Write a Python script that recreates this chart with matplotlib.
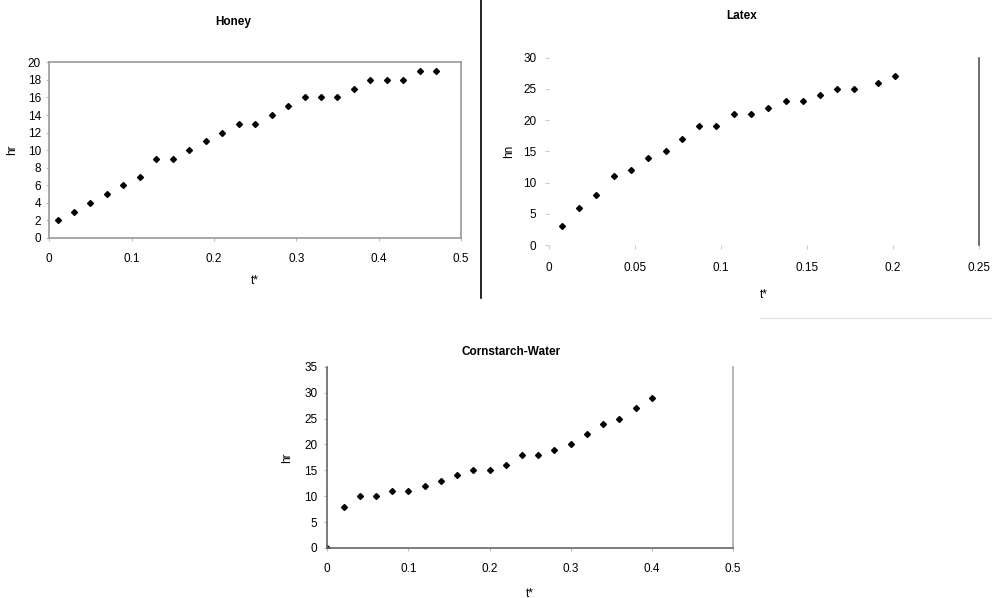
import matplotlib
matplotlib.use("Agg")
import matplotlib.pyplot as plt
from matplotlib.lines import Line2D

plt.rcParams['font.family'] = ['Liberation Sans', 'DejaVu Sans']

# Honey
honey_x = [0.01, 0.03, 0.05, 0.07, 0.09, 0.11, 0.13, 0.15, 0.17, 0.19, 0.21, 0.23,
           0.25, 0.27, 0.29, 0.31, 0.33, 0.35, 0.37, 0.39, 0.41, 0.43, 0.45, 0.47]
honey_y = [2, 3, 4, 5, 6, 7, 9, 9, 10, 11, 12, 13, 13, 14, 15, 16, 16, 16, 17, 18, 18, 18, 19, 19]
honey_xticks = [0, 0.1, 0.2, 0.3, 0.4, 0.5]
honey_xtl = ['0', '0.1', '0.2', '0.3', '0.4', '0.5']
honey_yticks = [0, 2, 4, 6, 8, 10, 12, 14, 16, 18, 20]

# Latex
latex_x = [0.0077, 0.0176, 0.0274, 0.0376, 0.0479, 0.0577, 0.0678, 0.0772, 0.0873, 0.0973,
           0.1073, 0.1174, 0.1276, 0.1376, 0.1475, 0.1573, 0.1672, 0.1772, 0.191, 0.201]
latex_y = [3, 6, 8, 11, 12, 14, 15, 17, 19, 19, 21, 21, 22, 23, 23, 24, 25, 25, 26, 27]
latex_xticks = [0, 0.05, 0.1, 0.15, 0.2, 0.25]
latex_xtl = ['0', '0.05', '0.1', '0.15', '0.2', '0.25']
latex_yticks = [0, 5, 10, 15, 20, 25, 30]

# Cornstarch-Water
corn_x = [0.0, 0.02, 0.04, 0.06, 0.08, 0.10, 0.12, 0.14, 0.16, 0.18, 0.20,
          0.22, 0.24, 0.26, 0.28, 0.30, 0.32, 0.34, 0.36, 0.38, 0.40]
corn_y = [0, 8, 10, 10, 11, 11, 12, 13, 14, 15, 15, 16, 18, 18, 19, 20, 22, 24, 25, 27, 29]
corn_xticks = [0, 0.1, 0.2, 0.3, 0.4, 0.5]
corn_xtl = ['0', '0.1', '0.2', '0.3', '0.4', '0.5']
corn_yticks = [0, 5, 10, 15, 20, 25, 30, 35]

fig = plt.figure(figsize=(9.92, 5.98), dpi=100)
W, H = 992, 598

def ax_px(x0, x1, ytop, ybot):
    return fig.add_axes([x0 / W, 1 - ybot / H, (x1 - x0) / W, (ybot - ytop) / H])

tick_fs = 8.5
lab_fs = 8.5
mk = dict(marker='D', markersize=3.0, color='black', linestyle='none')

# Honey panel
ax1 = ax_px(49.3, 461, 62.3, 238)
ax1.plot(honey_x, honey_y, **mk)
ax1.set_xlim(0, 0.5)
ax1.set_ylim(0, 20)
ax1.set_xticks(honey_xticks)
ax1.set_xticklabels(honey_xtl)
ax1.set_yticks(honey_yticks)
for s in ax1.spines.values():
    s.set_color('#999999')
    s.set_linewidth(1.2)
ax1.tick_params(length=2, color='#bbbbbb', labelsize=tick_fs)
ax1.tick_params(axis='x', pad=9)
ax1.tick_params(axis='y', pad=4)
ax1.set_xlabel('t*', fontsize=lab_fs, labelpad=7)
ax1.set_ylabel('hr', fontsize=lab_fs, labelpad=7)
fig.text(233 / W, 1 - 22 / H, 'Honey', ha='center', va='center', fontsize=8.5, fontweight='bold')

# Latex panel
ax2 = ax_px(549, 979, 57.7, 245)
ax2.plot(latex_x, latex_y, **mk)
ax2.set_xlim(0, 0.25)
ax2.set_ylim(0, 30)
ax2.set_xticks(latex_xticks)
ax2.set_xticklabels(latex_xtl)
ax2.set_yticks(latex_yticks)
for k in ['top', 'left', 'bottom']:
    ax2.spines[k].set_visible(False)
ax2.spines['right'].set_color('#555555')
ax2.spines['right'].set_linewidth(1.2)
ax2.tick_params(length=3, color='#cccccc', labelsize=tick_fs)
ax2.tick_params(axis='x', pad=9)
ax2.tick_params(axis='y', pad=6)
ax2.set_xlabel('t*', fontsize=lab_fs, labelpad=11)
ax2.set_ylabel('hn', fontsize=lab_fs, labelpad=6)
fig.text(742 / W, 1 - 16 / H, 'Latex', ha='center', va='center', fontsize=8.5, fontweight='bold')

# Cornstarch-Water panel
ax3 = ax_px(327.3, 733, 366.7, 548)
ax3.plot(corn_x, corn_y, **mk)
ax3.set_xlim(0, 0.5)
ax3.set_ylim(0, 35)
ax3.set_xticks(corn_xticks)
ax3.set_xticklabels(corn_xtl)
ax3.set_yticks(corn_yticks)
ax3.spines['top'].set_visible(False)
ax3.spines['left'].set_color('#666666')
ax3.spines['bottom'].set_color('#666666')
ax3.spines['right'].set_color('#aaaaaa')
for s in ax3.spines.values():
    s.set_linewidth(1.2)
ax3.tick_params(length=2, color='#bbbbbb', labelsize=tick_fs)
ax3.tick_params(axis='x', pad=9)
ax3.tick_params(axis='y', pad=5)
ax3.set_xlabel('t*', fontsize=lab_fs, labelpad=9)
ax3.set_ylabel('hr', fontsize=lab_fs, labelpad=8)
fig.text(511 / W, 1 - 352 / H, 'Cornstarch-Water', ha='center', va='center', fontsize=8.5, fontweight='bold')

# separator line between top panels
fig.add_artist(Line2D([481 / W, 481 / W], [1, 1 - 298 / H], color='black', linewidth=1.2))
fig.add_artist(Line2D([760 / W, 1], [1 - 318 / H, 1 - 318 / H], color='#dddddd', linewidth=0.8))

fig.savefig('out.png', dpi=100)
